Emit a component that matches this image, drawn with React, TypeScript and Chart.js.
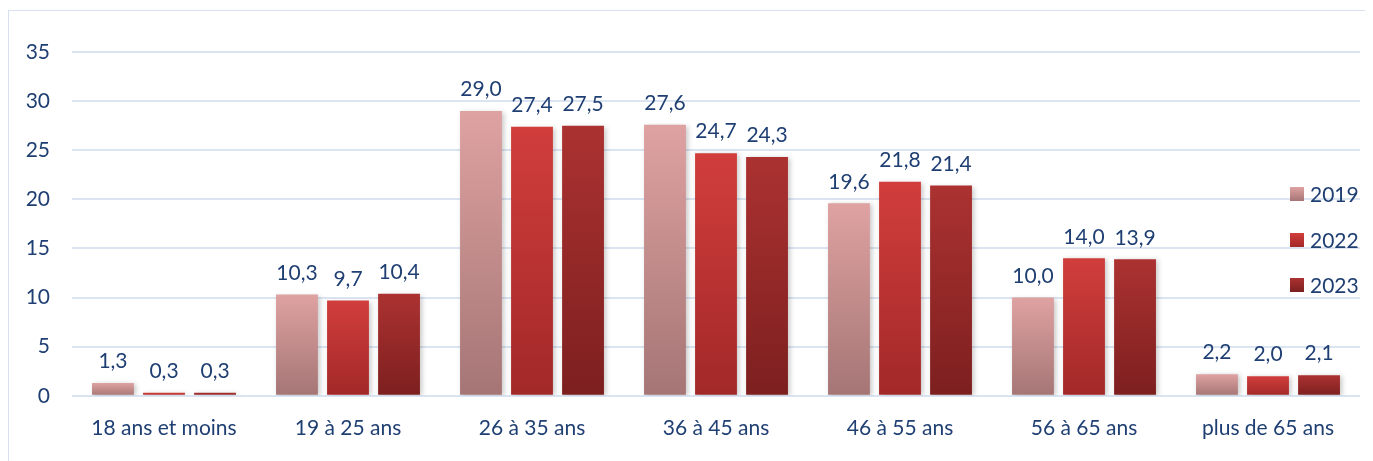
import React, { useEffect, useRef } from "react";
import { Chart, registerables } from "chart.js";

Chart.register(...registerables);

const categories = [
  "18 ans et moins",
  "19 à 25 ans",
  "26 à 35 ans",
  "36 à 45 ans",
  "46 à 55 ans",
  "56 à 65 ans",
  "plus de 65 ans",
];
const seriesLabels = ["2019", "2022", "2023"];
const values2019 = [1.3, 10.3, 29.0, 27.6, 19.6, 10.0, 2.2];
const values2022 = [0.3, 9.7, 27.4, 24.7, 21.8, 14.0, 2.0];
const values2023 = [0.3, 10.4, 27.5, 24.3, 21.4, 13.9, 2.1];
const yTicks = [0, 5, 10, 15, 20, 25, 30, 35];

const gradientStops = [
  ["#dea2a1", "#a57575"],
  ["#d13e3c", "#a22828"],
  ["#ab3231", "#7d1f1f"],
];

const TEXT = "#1f3f73";
const FONT_FAMILY = "Lato, 'Open Sans', sans-serif";
const FONT_SIZE = 21;

function makeBg(seriesIndex: number) {
  return (ctx: any) => {
    const chart = ctx.chart;
    const y = chart.scales && chart.scales.y;
    if (!y || ctx.type !== "data") return gradientStops[seriesIndex][0];
    const v = ctx.raw as number;
    const top = y.getPixelForValue(v);
    const bottom = y.getPixelForValue(0);
    if (!isFinite(top) || !isFinite(bottom) || top === bottom) return gradientStops[seriesIndex][0];
    const g = chart.ctx.createLinearGradient(0, top, 0, bottom);
    g.addColorStop(0, gradientStops[seriesIndex][0]);
    g.addColorStop(1, gradientStops[seriesIndex][1]);
    return g;
  };
}

const shadowPlugin = {
  id: "barShadow",
  beforeDatasetDraw(chart: any) {
    const c = chart.ctx;
    c.save();
    c.shadowColor = "rgba(0,0,0,0.22)";
    c.shadowBlur = 5;
    c.shadowOffsetX = 2;
    c.shadowOffsetY = 1;
  },
  afterDatasetDraw(chart: any) {
    chart.ctx.restore();
  },
};

const labelsPlugin = {
  id: "valueLabels",
  afterDatasetsDraw(chart: any) {
    const c = chart.ctx;
    c.save();
    c.font = `${FONT_SIZE}px ${FONT_FAMILY}`;
    c.fillStyle = TEXT;
    c.textAlign = "center";
    c.textBaseline = "bottom";
    chart.data.datasets.forEach((ds: any, di: number) => {
      const meta = chart.getDatasetMeta(di);
      meta.data.forEach((el: any, i: number) => {
        const v = ds.data[i] as number;
        c.fillText(v.toFixed(1).replace(".", ","), el.x, el.y - 11);
      });
    });
    c.restore();
  },
};

const legendPlugin = {
  id: "floatingLegend",
  afterDraw(chart: any) {
    const c = chart.ctx;
    const area = chart.chartArea;
    const x = area.right - 70;
    const ys = [183, 229, 274];
    c.save();
    c.font = `${FONT_SIZE}px ${FONT_FAMILY}`;
    c.textBaseline = "middle";
    c.textAlign = "left";
    seriesLabels.forEach((lab, i) => {
      const yc = ys[i];
      const g = c.createLinearGradient(0, yc - 7, 0, yc + 7);
      g.addColorStop(0, gradientStops[i][0]);
      g.addColorStop(1, gradientStops[i][1]);
      c.fillStyle = g;
      c.fillRect(x, yc - 7, 14, 14);
      c.fillStyle = TEXT;
      c.fillText(lab, x + 20, yc + 1);
    });
    c.restore();
  },
};

export default function App() {
  const canvasRef = useRef<HTMLCanvasElement | null>(null);

  useEffect(() => {
    document.body.style.overflow = "hidden";
    const canvas = canvasRef.current;
    if (!canvas) return;
    const series = [values2019, values2022, values2023];
    const chart = new Chart(canvas, {
      type: "bar",
      data: {
        labels: categories,
        datasets: series.map((vals, i) => ({
          label: seriesLabels[i],
          data: vals,
          backgroundColor: makeBg(i),
          borderWidth: 0,
          categoryPercentage: 0.832,
          barPercentage: 0.82,
        })),
      },
      options: {
        animation: false,
        responsive: true,
        maintainAspectRatio: false,
        layout: { padding: { top: 41, right: 13, bottom: 0, left: 0 } },
        plugins: {
          legend: { display: false },
          tooltip: { enabled: false },
        },
        scales: {
          x: {
            grid: { display: false, drawTicks: false },
            border: { display: false },
            ticks: {
              color: TEXT,
              font: { family: FONT_FAMILY, size: FONT_SIZE },
              padding: 20,
              maxRotation: 0,
              autoSkip: false,
            },
          },
          y: {
            min: 0,
            max: 35,
            afterBuildTicks: (scale: any) => {
              scale.ticks = yTicks.map((v) => ({ value: v }));
            },
            afterFit: (scale: any) => {
              scale.width = 63;
            },
            grid: { color: "#dbe5f2", lineWidth: 2, drawTicks: false },
            border: { display: false },
            ticks: {
              color: TEXT,
              font: { family: FONT_FAMILY, size: FONT_SIZE },
              padding: 22,
            },
          },
        },
      },
      plugins: [shadowPlugin, labelsPlugin, legendPlugin],
    });
    return () => chart.destroy();
  }, []);

  return (
    <div
      style={{
        width: 1364,
        height: 450,
        marginTop: 2,
        borderTop: "1px solid #d6e0ee",
        borderLeft: "1px solid #d6e0ee",
        position: "relative",
      }}
    >
      <canvas ref={canvasRef} />
    </div>
  );
}
